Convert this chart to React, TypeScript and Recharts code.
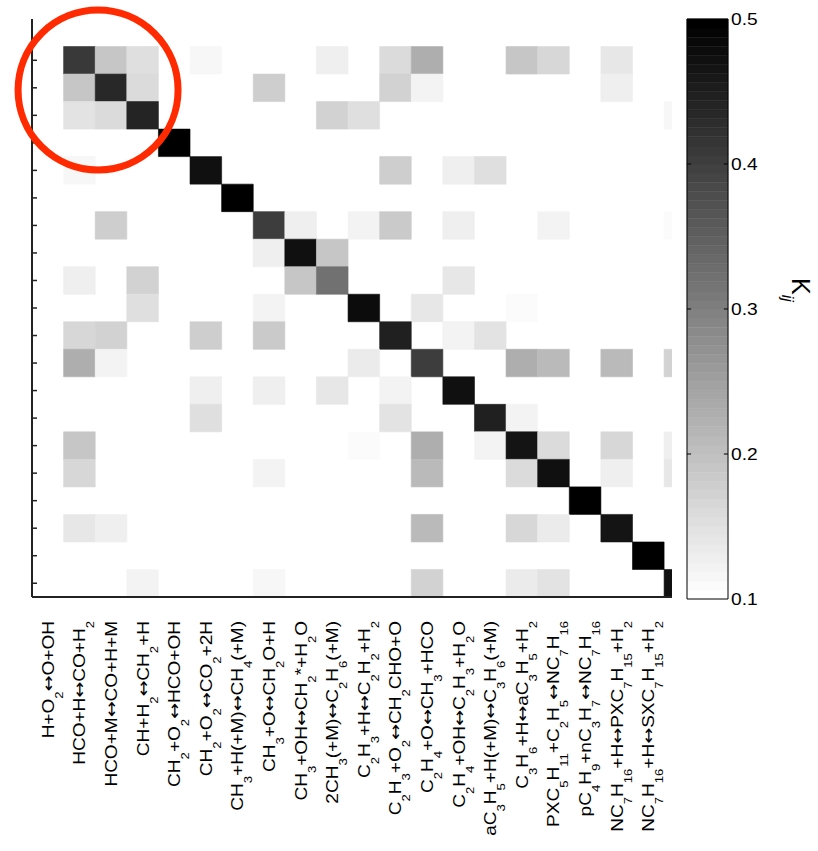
import React from 'react';
import { ComposedChart, XAxis, YAxis, ReferenceArea, ReferenceLine, ReferenceDot } from 'recharts';

// reaction names (TeX-like: _x or _{xx} marks a subscript)
const REACTIONS = [
  'H+O_2↔O+OH',
  'HCO+H↔CO+H_2',
  'HCO+M↔CO+H+M',
  'CH+H_2↔CH_2+H',
  'CH_2+O_2↔HCO+OH',
  'CH_2+O_2↔CO_2+2H',
  'CH_3+H(+M)↔CH_4(+M)',
  'CH_3+O↔CH_2O+H',
  'CH_3+OH↔CH_2*+H_2O',
  '2CH_3(+M)↔C_2H_6(+M)',
  'C_2H_3+H↔C_2H_2+H_2',
  'C_2H_3+O_2↔CH_2CHO+O',
  'C_2H_4+O↔CH_3+HCO',
  'C_2H_4+OH↔C_2H_3+H_2O',
  'aC_3H_5+H(+M)↔C_3H_6(+M)',
  'C_3H_6+H↔aC_3H_5+H_2',
  'PXC_5H_{11}+C_2H_5↔NC_7H_{16}',
  'pC_4H_9+nC_3H_7↔NC_7H_{16}',
  'NC_7H_{16}+H↔PXC_7H_{15}+H_2',
  'NC_7H_{16}+H↔SXC_7H_{15}+H_2',
];

// K_ij matrix, rows i = 1..20, columns j = 1..20 (0 = below colour range)
const KIJ = [
  [0.412, 0.192, 0.149, 0, 0.111, 0, 0, 0, 0.127, 0, 0.16, 0.224, 0, 0, 0.186, 0.161, 0, 0.136, 0, 0],
  [0.192, 0.434, 0.155, 0, 0, 0, 0.175, 0, 0, 0, 0.167, 0.118, 0, 0, 0, 0, 0, 0.124, 0, 0],
  [0.142, 0.155, 0.44, 0, 0, 0, 0, 0, 0.167, 0.149, 0, 0, 0, 0, 0, 0, 0, 0, 0, 0.111],
  [0, 0, 0, 0.55, 0, 0, 0, 0, 0, 0, 0, 0, 0, 0, 0, 0, 0, 0, 0, 0],
  [0.111, 0, 0, 0, 0.473, 0, 0, 0, 0, 0, 0.174, 0, 0.124, 0.149, 0, 0, 0, 0, 0, 0],
  [0, 0, 0, 0, 0, 0.55, 0, 0, 0, 0, 0, 0, 0, 0, 0, 0, 0, 0, 0, 0],
  [0, 0.174, 0, 0, 0, 0, 0.406, 0.127, 0, 0.118, 0.181, 0, 0.124, 0, 0, 0.118, 0, 0, 0, 0.108],
  [0, 0, 0, 0, 0, 0, 0.127, 0.473, 0.189, 0, 0, 0, 0, 0, 0, 0, 0, 0, 0, 0],
  [0.127, 0, 0.167, 0, 0, 0, 0, 0.192, 0.324, 0, 0, 0, 0.136, 0, 0, 0, 0, 0, 0, 0],
  [0, 0, 0.149, 0, 0, 0, 0.118, 0, 0, 0.481, 0, 0.136, 0, 0, 0.108, 0, 0, 0, 0, 0],
  [0.161, 0.167, 0, 0, 0.174, 0, 0.181, 0, 0, 0, 0.447, 0, 0.118, 0.142, 0, 0, 0, 0, 0, 0],
  [0.224, 0.118, 0, 0, 0, 0, 0, 0, 0, 0.133, 0, 0.406, 0, 0, 0.227, 0.205, 0, 0.205, 0, 0.167],
  [0, 0, 0, 0, 0.124, 0, 0.124, 0, 0.136, 0, 0.118, 0, 0.473, 0, 0, 0, 0, 0, 0, 0],
  [0, 0, 0, 0, 0.149, 0, 0, 0, 0, 0, 0.142, 0, 0, 0.447, 0.118, 0, 0, 0, 0, 0],
  [0.186, 0, 0, 0, 0, 0, 0, 0, 0, 0.108, 0, 0.23, 0, 0.118, 0.469, 0.155, 0, 0.161, 0, 0.127],
  [0.161, 0, 0, 0, 0, 0, 0.118, 0, 0, 0, 0, 0.205, 0, 0, 0.155, 0.473, 0, 0.127, 0, 0.136],
  [0, 0, 0, 0, 0, 0, 0, 0, 0, 0, 0, 0, 0, 0, 0, 0, 0.55, 0, 0, 0],
  [0.136, 0.124, 0, 0, 0, 0, 0, 0, 0, 0, 0, 0.205, 0, 0, 0.161, 0.13, 0, 0.469, 0, 0],
  [0, 0, 0, 0, 0, 0, 0, 0, 0, 0, 0, 0, 0, 0, 0, 0, 0, 0, 0.55, 0],
  [0, 0, 0.118, 0, 0, 0, 0.111, 0, 0, 0, 0, 0.167, 0, 0, 0.13, 0.142, 0, 0, 0, 0.473],
];

const X_TICKS = [0, 1, 2, 3, 4, 5, 6, 7, 8, 9, 10, 11, 12, 13, 14, 15, 16, 17, 18, 19];
const Y_TICKS = [1, 2, 3, 4, 5, 6, 7, 8, 9, 10, 11, 12, 13, 14, 15, 16, 17, 18, 19, 20];
const CBAR_TICKS = [0.1, 0.2, 0.3, 0.4, 0.5];
const CBAR_INNER = [0.2, 0.3, 0.4];
const K_MIN = 0.1;
const K_MAX = 0.5;

// red highlight ring around the first 3x3 block (column, row)
const HIGHLIGHT = { col: 1.59, row: 2.08 };

const FONT = '"Liberation Sans", Arial, Helvetica, sans-serif';
const AXIS = '#222';

// flipped gray colormap, 64 levels like the original
const grayOf = (k: number) => {
  const f = Math.min(1, Math.max(0, (k - K_MIN) / (K_MAX - K_MIN)));
  const lvl = Math.round(f * 63) / 63;
  const v = Math.round(255 * (1 - lvl));
  return `rgb(${v},${v},${v})`;
};

const cells = KIJ.flatMap((row, i) =>
  row.map((k, j) => ({ row: i + 1, col: j + 1, k })).filter((c) => c.k > K_MIN)
);

const bands = Array.from({ length: 64 }, (_, b) => {
  const lo = K_MIN + (b * (K_MAX - K_MIN)) / 64;
  const hi = K_MIN + ((b + 1) * (K_MAX - K_MIN)) / 64;
  return { lo, hi, color: grayOf((lo + hi) / 2) };
});

// split "CH_3+H_{16}" into plain / subscript / arrow pieces
function parseTex(s: string) {
  const out: { t: string; sub: boolean }[] = [];
  let buf = '';
  const flush = () => {
    if (buf) out.push({ t: buf, sub: false });
    buf = '';
  };
  for (let i = 0; i < s.length; i++) {
    if (s[i] === '_') {
      flush();
      if (s[i + 1] === '{') {
        const end = s.indexOf('}', i);
        out.push({ t: s.slice(i + 2, end), sub: true });
        i = end;
      } else {
        out.push({ t: s[i + 1], sub: true });
        i += 1;
      }
    } else if (s[i] === '↔') {
      flush();
      out.push({ t: '↔', sub: false });
    } else {
      buf += s[i];
    }
  }
  flush();
  return out;
}

const SUB_DY = 9;

function ReactionTick(props: any) {
  const { x, y, payload } = props;
  const parts = parseTex(REACTIONS[payload.value] ?? '');
  let low = false;
  return (
    <text
      transform={`translate(${x + 6}, ${y + 24}) rotate(-90) scale(1.19, 1)`}
      textAnchor="end"
      fontFamily={FONT}
      fontSize={16}
      fill="#000"
    >
      {parts.map((p, idx) => {
        let dy = 0;
        if (p.sub && !low) dy = SUB_DY;
        if (!p.sub && low) dy = -SUB_DY;
        low = p.sub;
        const arrow = p.t === '↔';
        return (
          <tspan
            key={idx}
            dy={dy}
            fontSize={p.sub ? 11 : 16}
            fontFamily={arrow ? '"DejaVu Sans", sans-serif' : undefined}
          >
            {p.t}
          </tspan>
        );
      })}
    </text>
  );
}

function CbarTick(props: any) {
  const { x, y, payload } = props;
  return (
    <text
      transform={`translate(${x}, ${y}) scale(1.2, 1)`}
      dy="0.36em"
      textAnchor="start"
      fontFamily={FONT}
      fontSize={16}
      fill="#000"
    >
      {Number(payload.value).toFixed(1)}
    </text>
  );
}

function KTitle() {
  return (
    <text transform="translate(112, 278) rotate(90)" fontFamily={FONT} fontSize={25} fill="#000">
      K
      <tspan dy={10} fontSize={16} fontStyle="italic">
        ij
      </tspan>
    </text>
  );
}

export default function App() {
  return (
    <div
      style={{
        position: 'absolute',
        left: 0,
        top: 0,
        width: 818,
        height: 851,
        background: '#fff',
        overflow: 'hidden',
      }}
    >
      <div style={{ position: 'absolute', left: 0, top: 0 }}>
        <ComposedChart width={680} height={851} margin={{ top: 19, right: 8, bottom: 14, left: 32 }}>
          <XAxis
            type="number"
            dataKey="col"
            domain={[-0.5, 19.75]}
            allowDataOverflow
            ticks={X_TICKS}
            interval={0}
            height={240}
            tickLine={false}
            tickSize={0}
            tickMargin={0}
            axisLine={{ stroke: AXIS, strokeWidth: 2 }}
            tick={<ReactionTick />}
          />
          <YAxis
            type="number"
            dataKey="row"
            domain={[-0.5, 20.5]}
            allowDataOverflow
            reversed
            ticks={Y_TICKS}
            interval={0}
            width={1}
            mirror
            tickSize={5}
            tickLine={{ stroke: AXIS, strokeWidth: 1.5 }}
            axisLine={{ stroke: AXIS, strokeWidth: 2 }}
            tickFormatter={() => ''}
          />
          {cells.map((c) => (
            <ReferenceArea
              key={`${c.row}-${c.col}`}
              x1={c.col - 0.5}
              x2={c.col + 0.5}
              y1={c.row - 0.5}
              y2={c.row + 0.5}
              fill={grayOf(c.k)}
              fillOpacity={1}
              stroke={grayOf(c.k)}
              strokeWidth={0.6}
              ifOverflow="hidden"
            />
          ))}
          <ReferenceDot
            x={HIGHLIGHT.col}
            y={HIGHLIGHT.row}
            r={80}
            fill="none"
            stroke="#ff2a00"
            strokeWidth={7}
            ifOverflow="visible"
          />
        </ComposedChart>
      </div>
      <div style={{ position: 'absolute', left: 680, top: 0 }}>
        <ComposedChart width={138} height={851} margin={{ top: 19, right: 0, bottom: 252, left: 7 }}>
          <XAxis type="number" dataKey="x" domain={[0, 1]} allowDataOverflow hide />
          <YAxis
            orientation="right"
            type="number"
            dataKey="k"
            domain={[K_MIN, K_MAX]}
            allowDataOverflow
            ticks={CBAR_TICKS}
            interval={0}
            width={90}
            tickLine={false}
            axisLine={false}
            tickSize={0}
            tickMargin={3}
            tick={<CbarTick />}
            label={{ content: () => <KTitle /> }}
          />
          {bands.map((b, i) => (
            <ReferenceArea
              key={i}
              x1={0}
              x2={1}
              y1={b.lo}
              y2={b.hi}
              fill={b.color}
              fillOpacity={1}
              stroke={b.color}
              strokeWidth={0.5}
            />
          ))}
          {CBAR_INNER.map((v) => (
            <ReferenceLine key={`l${v}`} segment={[{ x: 0, y: v }, { x: 0.1, y: v }]} stroke="#000" />
          ))}
          {CBAR_INNER.map((v) => (
            <ReferenceLine key={`r${v}`} segment={[{ x: 0.9, y: v }, { x: 1, y: v }]} stroke="#000" />
          ))}
          <ReferenceArea x1={0} x2={1} y1={K_MIN} y2={K_MAX} fill="none" stroke="#000" strokeWidth={1} />
        </ComposedChart>
      </div>
    </div>
  );
}
